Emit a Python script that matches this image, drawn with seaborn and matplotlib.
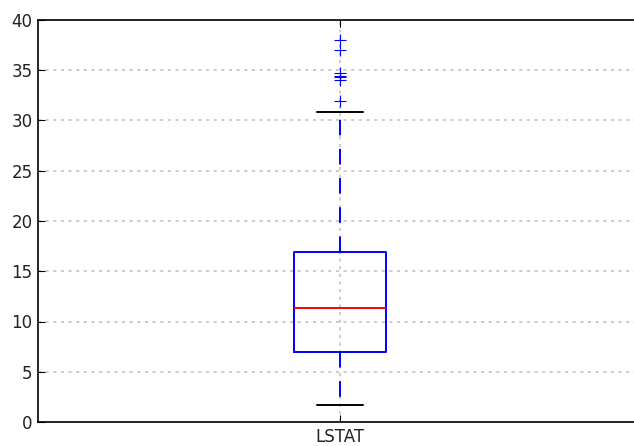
import pandas as pd
import matplotlib
matplotlib.use("Agg")
import matplotlib.pyplot as plt
import seaborn as sns

# LSTAT sample (values estimated so that the box summary matches the picture)
lstat = [1.73, 2.9, 3.5, 4.0, 4.5, 5.0, 5.5, 5.9, 6.3, 6.6,
         6.95, 7.4, 7.9, 8.4, 8.9, 9.4, 9.8, 10.3, 10.7, 11.0,
         11.36, 11.9, 12.5, 13.1, 13.6, 14.2, 14.8, 15.4, 15.9, 16.5,
         16.96, 19.5, 22.0, 30.81, 31.99, 34.02, 34.37, 34.41, 34.77,
         36.98, 37.97]
column = "LSTAT"
y_ticks = [0, 5, 10, 15, 20, 25, 30, 35, 40]

df = pd.DataFrame({column: lstat})

sns.set_theme(style="white")
plt.rcParams["font.family"] = ["DejaVu Sans"]

fig = plt.figure(figsize=(6.34, 4.46), dpi=100)
# the right edge of the axes runs a little past the picture, as in the original
ax = fig.add_axes([38 / 634, 24 / 446, 604 / 634, 402 / 446])

sns.boxplot(data=df, ax=ax, width=0.151, fill=False, whis=1.5,
            boxprops=dict(color="blue", linewidth=1.4),
            medianprops=dict(color="red", linewidth=1.4),
            whiskerprops=dict(color="blue", linestyle=(0, (8, 7)), linewidth=1.4),
            capprops=dict(color="black", linewidth=1.4),
            flierprops=dict(marker="+", markeredgecolor="blue",
                            markerfacecolor="none", markersize=8,
                            markeredgewidth=0.8))

ax.set_xlim(-0.5, 0.5)
ax.set_ylim(0, 40)
ax.set_yticks(y_ticks)
ax.set_xlabel("")
ax.set_ylabel("")
ax.grid(True, color="#bdbdbd", linestyle=(0, (2, 3)), linewidth=1.1)
ax.set_axisbelow(True)
for s in ax.spines.values():
    s.set_color("black")
    s.set_linewidth(1.2)
    s.set_visible(True)
ax.tick_params(direction="in", length=5, width=0.8, color="black",
               top=True, right=True, bottom=True, left=True,
               labelsize=12, labelcolor="#222222", pad=4)

fig.savefig("out.png", dpi=100)
